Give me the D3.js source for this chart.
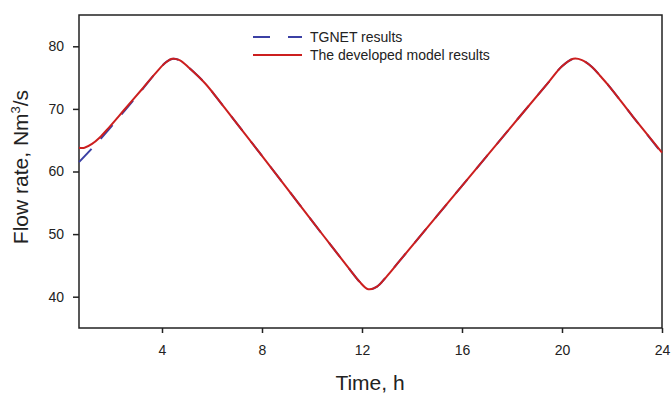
<!DOCTYPE html>
<html lang="en">
<head>
    <meta charset="UTF-8">
    <title>Flow rate vs time</title>
    <style>
        body { margin: 0; background: #fff; }
        svg text { font-family: "Liberation Sans", Arial, sans-serif; fill: #222; }
        .frame { fill: none; stroke: #222; stroke-width: 1.5px; }
        .tick line { stroke: #222; stroke-width: 1.5px; }
        .tick text { font-size: 14px; }
        .axis-title { font-size: 21px; }
        .legend text { font-size: 14px; }
    </style>
</head>
<body>
    <svg width="671" height="395"></svg>

    <script src="https://d3js.org/d3.v7.min.js"></script>
    <script>
        // values
        const tgnetTime = [0.68, 1.25, 1.85, 2.5, 3.19, 3.85, 4.2, 4.45, 4.75, 5.1, 5.72, 6.5, 8, 10, 10.72, 11.5, 11.9, 12.25, 12.6, 13.0, 13.52, 16, 18, 19.45, 20.0, 20.45, 20.8, 21.2, 21.52, 21.85, 22.85, 24];
        const tgnetFlow = [61.5, 63.9, 66.6, 69.7, 73.0, 76.2, 77.6, 78.0, 77.7, 76.5, 74.1, 70.2, 62.5, 52.1, 48.4, 44.4, 42.4, 41.2, 41.6, 43.3, 45.8, 57.7, 67.3, 74.2, 76.8, 78.0, 77.8, 76.7, 75.3, 73.8, 68.7, 62.9];

        const modelTime = [0.68, 0.9, 1.2, 1.5, 1.85, 2.5, 3.19, 3.85, 4.15, 4.4, 4.7, 5.1, 5.72, 6.5, 8, 10, 10.72, 11.5, 11.9, 12.25, 12.6, 13.0, 13.52, 16, 18, 19.45, 20.0, 20.45, 20.8, 21.2, 21.52, 21.85, 22.85, 24];
        const modelFlow = [63.8, 63.8, 64.4, 65.4, 66.9, 69.9, 73.1, 76.2, 77.4, 78.0, 77.8, 76.5, 74.1, 70.2, 62.5, 52.1, 48.4, 44.4, 42.4, 41.2, 41.6, 43.3, 45.8, 57.7, 67.3, 74.2, 76.8, 78.0, 77.8, 76.7, 75.3, 73.8, 68.7, 63.0];

        const xTicks = [4, 8, 12, 16, 20, 24];
        const yTicks = [40, 50, 60, 70, 80];
        const legendLabels = ["TGNET results", "The developed model results"];

        const svg = d3.select("svg");
        const plotLeft = 79, plotRight = 662, plotTop = 15, plotBottom = 328;

        const x = d3.scaleLinear().domain([0.68, 24]).range([plotLeft, plotRight]);
        const y = d3.scaleLinear().domain([35, 85]).range([plotBottom, plotTop]);

        // frame
        svg.append("rect")
            .attr("class", "frame")
            .attr("x", plotLeft).attr("y", plotTop)
            .attr("width", plotRight - plotLeft).attr("height", plotBottom - plotTop);

        svg.append("g")
            .attr("transform", `translate(0,${plotBottom})`)
            .call(d3.axisBottom(x).tickValues(xTicks).tickSize(5).tickPadding(12))
            .call(g => g.select(".domain").remove());

        svg.append("g")
            .attr("transform", `translate(${plotLeft},0)`)
            .call(d3.axisLeft(y).tickValues(yTicks).tickSize(6).tickPadding(9))
            .call(g => g.select(".domain").remove());

        // axis titles
        svg.append("text")
            .attr("class", "axis-title")
            .attr("x", 370).attr("y", 390)
            .attr("text-anchor", "middle")
            .text("Time, h");

        const yTitle = svg.append("text")
            .attr("class", "axis-title")
            .attr("transform", "translate(28,167) rotate(-90)")
            .attr("text-anchor", "middle");
        yTitle.append("tspan").text("Flow rate, Nm");
        yTitle.append("tspan").attr("font-size", "13px").attr("dy", -8).text("3");
        yTitle.append("tspan").attr("dy", 8).text("/s");

        const line = d3.line()
            .x(d => x(d[0]))
            .y(d => y(d[1]))
            .curve(d3.curveCatmullRom.alpha(0.5));

        svg.append("path")
            .datum(tgnetTime.map((t, i) => [t, tgnetFlow[i]]))
            .attr("fill", "none")
            .attr("stroke", "#3b40a4")
            .attr("stroke-width", 2)
            .attr("stroke-dasharray", "18,14")
            .attr("d", line);

        svg.append("path")
            .datum(modelTime.map((t, i) => [t, modelFlow[i]]))
            .attr("fill", "none")
            .attr("stroke", "#cc1f1f")
            .attr("stroke-width", 2)
            .attr("d", line);

        // legend
        const legend = svg.append("g").attr("class", "legend");
        const legendStyles = [
            { color: "#3b40a4", dash: "17,18" },
            { color: "#cc1f1f", dash: null }
        ];
        legendLabels.forEach((label, i) => {
            const ly = 37 + i * 18;
            legend.append("line")
                .attr("x1", 253).attr("x2", 302)
                .attr("y1", ly).attr("y2", ly)
                .attr("stroke", legendStyles[i].color)
                .attr("stroke-width", 2)
                .attr("stroke-dasharray", legendStyles[i].dash);
            legend.append("text")
                .attr("x", 310).attr("y", ly + 5)
                .text(label);
        });
    </script>
</body>
</html>
